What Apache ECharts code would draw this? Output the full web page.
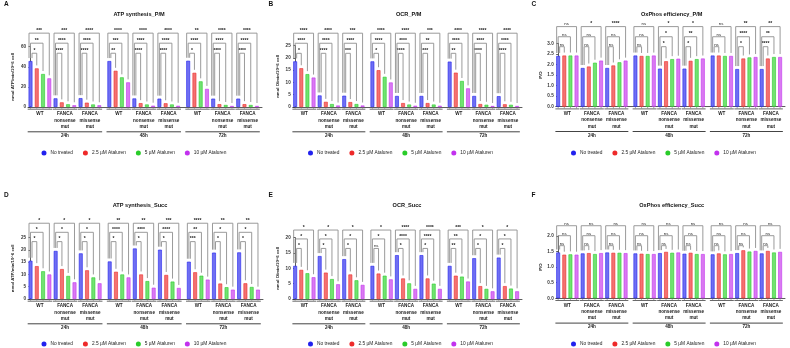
<!DOCTYPE html>
<html>
<head>
<meta charset="utf-8">
<script src="https://cdn.jsdelivr.net/npm/echarts@6/dist/echarts.min.js"></script>
<style>
  html, body { margin: 0; padding: 0; background: #fff; }
  #main { width: 790px; height: 348px; }
</style>
</head>
<body>
<div id="main"></div>
<script>
// categories
const treatments = ['No treated', '2.5 µM Ataluren', '5 µM Ataluren', '10 µM Ataluren'];
const times = ['24h', '48h', '72h'];
const cellLines = ['WT', 'FANCA\nnonsense\nmut', 'FANCA\nmissense\nmut'];

// one row per group: 24h WT, 24h nonsense, 24h missense, 48h ..., 72h ...
const atpPM = [
  [45.7, 38.4, 32.8, 28.5], [8.6, 4.6, 2.7, 1.7], [8.8, 4.3, 2.5, 1.7],
  [45.7, 36.0, 29.5, 24.5], [8.5, 3.8, 2.5, 1.3], [8.3, 3.7, 2.5, 1.2],
  [46.0, 34.0, 25.5, 18.0], [8.3, 2.8, 2.0, 1.0], [8.3, 2.8, 2.0, 1.0]
];
const ocrPM = [
  [18.6, 15.8, 13.4, 12.0], [4.7, 2.1, 1.2, 0.6], [4.6, 2.0, 1.2, 0.6],
  [18.6, 15.0, 12.3, 10.0], [4.5, 1.6, 1.0, 0.5], [4.5, 1.6, 1.0, 0.5],
  [18.5, 14.0, 10.6, 7.6], [4.5, 1.2, 0.9, 0.4], [4.4, 1.1, 0.9, 0.4]
];
const poPM = [
  [2.40, 2.42, 2.42, 2.42], [1.83, 1.90, 2.08, 2.18], [1.83, 1.95, 2.10, 2.18],
  [2.42, 2.40, 2.40, 2.42], [1.80, 2.15, 2.25, 2.27], [1.80, 2.17, 2.25, 2.28],
  [2.42, 2.42, 2.40, 2.40], [1.78, 2.28, 2.33, 2.35], [1.78, 2.28, 2.35, 2.35]
];
const atpSucc = [
  [15.6, 13.4, 11.3, 10.0], [19.6, 12.2, 9.4, 6.8], [18.6, 11.7, 8.8, 6.4],
  [15.3, 11.1, 10.0, 8.8], [20.6, 10.0, 7.3, 4.6], [20.1, 9.8, 7.1, 4.5],
  [15.2, 10.9, 9.5, 7.9], [18.9, 6.3, 4.8, 3.8], [19.0, 6.4, 4.9, 3.8]
];
const ocrSucc = [
  [10.8, 9.5, 8.4, 7.1], [14.0, 8.6, 6.5, 4.8], [13.0, 8.0, 6.1, 4.6],
  [10.8, 8.3, 7.6, 6.4], [14.3, 6.7, 5.1, 3.3], [14.3, 6.7, 5.0, 3.3],
  [10.8, 7.6, 7.3, 5.7], [13.3, 4.2, 3.3, 2.5], [13.5, 4.2, 3.4, 2.5]
];
const poSucc = [
  [1.47, 1.40, 1.41, 1.40], [1.44, 1.45, 1.42, 1.45], [1.47, 1.46, 1.46, 1.45],
  [1.44, 1.43, 1.42, 1.42], [1.45, 1.49, 1.46, 1.47], [1.43, 1.46, 1.42, 1.42],
  [1.41, 1.44, 1.41, 1.42], [1.45, 1.54, 1.50, 1.52], [1.44, 1.52, 1.47, 1.49]
];

// significance vs No treated: [2.5 µM, 5 µM, 10 µM] per group
const starsAtpPM = [
  ['*', '**', '***'], ['****', '****', '***'], ['****', '****', '****'],
  ['**', '***', '****'], ['****', '****', '****'], ['****', '****', '****'],
  ['*', '****', '**'], ['****', '****', '****'], ['****', '****', '****']
];
const starsOcrPM = [
  ['*', '****', '****'], ['****', '****', '****'], ['***', '****', '***'],
  ['*', '****', '****'], ['****', '****', '****'], ['***', '**', '***'],
  ['**', '****', '****'], ['****', '****', '****'], ['****', '****', '****']
];
const starsPoPM = [
  ['ns', 'ns', 'ns'], ['ns', 'ns', '*'], ['ns', 'ns', '****'],
  ['ns', 'ns', 'ns'], ['*', '*', '*'], ['*', '**', '*'],
  ['ns', 'ns', 'ns'], ['*', '****', '**'], ['****', '**', '**']
];
const starsAtpSucc = [
  ['*', '*', '*'], ['*', '*', '*'], ['*', '*', '*'],
  ['*', '****', '**'], ['*', '****', '**'], ['*', '****', '***'],
  ['***', '**', '****'], ['*', '*', '**'], ['*', '*', '**']
];
const starsOcrSucc = [
  ['*', '*', '*'], ['*', '*', '*'], ['*', '*', '*'],
  ['ns', '*', '*'], ['*', '****', '****'], ['*', '****', '****'],
  ['**', '**', '***'], ['*', '*', '*'], ['*', '*', '*']
];
const starsPoSucc = [
  ['ns', 'ns', 'ns'], ['ns', 'ns', 'ns'], ['ns', 'ns', 'ns'],
  ['ns', 'ns', 'ns'], ['ns', 'ns', 'ns'], ['ns', 'ns', 'ns'],
  ['ns', 'ns', 'ns'], ['ns', 'ns', 'ns'], ['ns', 'ns', 'ns']
];

const fills = ['#6f6ff2', '#f27272', '#72e272', '#d97af2'];
const edges = ['#2222ee', '#ee2a2a', '#2acc2a', '#c232ee'];
const FONT = '"Liberation Sans", Arial, sans-serif';

// layout of each panel
const panels = [
  { letter: 'A', title: 'ATP synthesis_P/M', yName: 'nmol ATP/min/10^6 cell', values: atpPM, stars: starsAtpPM,
    yMax: 60, yStep: 20, dec: 0, levels: [53.5, 63.5, 73.5],
    grid: { left: 28, top: 46.7, width: 234, height: 60.3 }, cx: 139, row: 0, nameGap: 13 },
  { letter: 'B', title: 'OCR_P/M', yName: 'nmol O/min/10^6 cell', values: ocrPM, stars: starsOcrPM,
    yMax: 25, yStep: 5, dec: 0, levels: [21.9, 26, 30.1],
    grid: { left: 292.7, top: 45.7, width: 229.3, height: 61.3 }, cx: 408.7, row: 0, nameGap: 13 },
  { letter: 'C', title: 'OxPhos efficiency_P/M', yName: 'P/O', values: poPM, stars: starsPoPM,
    yMax: 3, yStep: 0.5, dec: 1, levels: [2.84, 3.31, 3.79],
    grid: { left: 555.7, top: 43.3, width: 229.3, height: 63.4 }, cx: 671.7, row: 0, nameGap: 13 },
  { letter: 'D', title: 'ATP synthesis_Succ', yName: 'nmol ATP/min/10^6 cell', values: atpSucc, stars: starsAtpSucc,
    yMax: 25, yStep: 5, dec: 0, levels: [23.4, 27.2, 30.9],
    grid: { left: 28, top: 237.7, width: 235, height: 61.3 }, cx: 140, row: 1, nameGap: 13 },
  { letter: 'E', title: 'OCR_Succ', yName: 'nmol O/min/10^6 cell', values: ocrSucc, stars: starsOcrSucc,
    yMax: 20, yStep: 5, dec: 0, levels: [16.5, 19.6, 22.5],
    grid: { left: 292.7, top: 237.7, width: 229.3, height: 61.3 }, cx: 407, row: 1, nameGap: 13 },
  { letter: 'F', title: 'OxPhos efficiency_Succ', yName: 'P/O', values: poSucc, stars: starsPoSucc,
    yMax: 2, yStep: 0.5, dec: 1, levels: [1.69, 2.01, 2.33],
    grid: { left: 555.7, top: 236, width: 229.3, height: 62.3 }, cx: 671.7, row: 1, nameGap: 13 }
];
const colX = [0, 264.5, 527.5];
const rowY = [0, 191];

// x position of bar i in group g (value axis, one unit per bar)
const barX = (g, i) => g * 4 + i + Math.floor(g / 3) * 0.6;

const grids = [], xAxes = [], yAxes = [], series = [], titles = [], legends = [];

panels.forEach((p, k) => {
  grids.push(p.grid);
  xAxes.push({
    gridIndex: k, type: 'value', min: -0.4, max: 37,
    axisLine: { show: true, onZero: false, lineStyle: { color: '#333', width: 0.8 } },
    axisTick: { show: false }, axisLabel: { show: false }, splitLine: { show: false }
  });
  yAxes.push({
    gridIndex: k, type: 'value', min: 0, max: p.yMax, interval: p.yStep,
    name: p.yName, nameLocation: 'middle', nameGap: p.nameGap,
    nameTextStyle: { fontSize: 4.3, fontFamily: FONT, fontWeight: 'bold', color: '#222' },
    axisLine: { show: true, lineStyle: { color: '#333', width: 0.8 } },
    axisTick: { show: true, length: 2, lineStyle: { color: '#333', width: 0.8 } },
    axisLabel: { fontSize: 4.6, fontFamily: FONT, fontWeight: 'bold', color: '#333', margin: 2,
      formatter: v => v.toFixed(p.dec) },
    splitLine: { show: false }
  });

  treatments.forEach((name, i) => {
    series.push({
      type: 'bar', name, xAxisIndex: k, yAxisIndex: k,
      barWidth: 3.8, barGap: '-100%',
      itemStyle: { color: fills[i], borderColor: edges[i], borderWidth: 0.6 },
      data: p.values.map((row, g) => [barX(g, i), row[i]])
    });
  });

  // brackets, significance marks, axis ticks, group and time labels
  series.push({
    type: 'custom', xAxisIndex: k, yAxisIndex: k, silent: true, clip: false,
    encode: { x: 0, y: 1 },
    data: p.values.map((row, g) => [barX(g, 0), 0]),
    renderItem: (params, api) => {
      const g = params.dataIndex;
      const row = p.values[g];
      const pts = row.map((v, i) => api.coord([barX(g, i), v]));
      const y0 = api.coord([0, 0])[1];
      const kids = [];
      for (let l = 0; l < 3; l++) {
        const yl = api.coord([0, p.levels[l]])[1];
        const xa = pts[0][0] + (1 - l) * 1.5;
        const xb = pts[l + 1][0];
        kids.push({
          type: 'polyline',
          shape: { points: [[xa, pts[0][1] - 3], [xa, yl], [xb, yl], [xb, pts[l + 1][1] - 3]] },
          style: { stroke: '#8f8f8f', lineWidth: 0.9, fill: 'none' }
        });
        const s = p.stars[g][l];
        kids.push({
          type: 'text',
          style: { text: s, x: (xa + xb) / 2, y: yl - 0.3, align: 'center', verticalAlign: 'bottom',
            textAlign: 'center', textVerticalAlign: 'bottom',
            font: (s === 'ns' ? 'normal 4.3px ' : 'bold 5px ') + FONT, fill: '#222' }
        });
      }
      pts.forEach(pt => {
        kids.push({ type: 'line', shape: { x1: pt[0], y1: y0, x2: pt[0], y2: y0 + 1.6 },
          style: { stroke: '#666', lineWidth: 0.6 } });
      });
      const gx0 = api.coord([barX(g, 0) - 0.45, 0])[0];
      const gx1 = api.coord([barX(g, 3) + 0.45, 0])[0];
      kids.push({ type: 'line', shape: { x1: gx0, y1: y0 + 2.2, x2: gx1, y2: y0 + 2.2 },
        style: { stroke: '#444', lineWidth: 0.8 } });
      kids.push({
        type: 'text',
        style: { text: cellLines[g % 3], x: (gx0 + gx1) / 2, y: y0 + 4, align: 'center', verticalAlign: 'top',
          textAlign: 'center', textVerticalAlign: 'top', lineHeight: 6.3,
          font: 'bold 4.6px ' + FONT, fill: '#222' }
      });
      if (g % 3 === 0) {
        const tx0 = gx0;
        const tx1 = api.coord([barX(g + 2, 3) + 0.45, 0])[0];
        kids.push({ type: 'line', shape: { x1: tx0, y1: y0 + 24.8, x2: tx1, y2: y0 + 24.8 },
          style: { stroke: '#444', lineWidth: 1 } });
        kids.push({
          type: 'text',
          style: { text: times[g / 3], x: (tx0 + tx1) / 2, y: y0 + 28.8, align: 'center', verticalAlign: 'middle',
            textAlign: 'center', textVerticalAlign: 'middle', font: 'bold 4.6px ' + FONT, fill: '#222' }
        });
      }
      return { type: 'group', children: kids };
    }
  });

  const ox = colX[k % 3], oy = rowY[p.row];
  titles.push({
    text: p.letter, left: ox + 4, top: oy + 1, padding: 0,
    textStyle: { fontSize: 6.5, fontWeight: 'bold', fontFamily: FONT, color: '#111' }
  });
  titles.push({
    text: p.title, left: p.cx, top: oy + 11, textAlign: 'center', padding: 0,
    textStyle: { fontSize: 5.6, fontWeight: 'bold', fontFamily: FONT, color: '#111' }
  });
  legends.push({
    data: treatments.map((n, i) => ({ name: n, itemStyle: { color: edges[i] } })),
    left: ox + 41.5 + (k % 3 === 0 ? 0 : 2), top: oy + 150.5, padding: 0,
    icon: 'circle', itemWidth: 3, itemHeight: 3, itemGap: 10,
    textStyle: { fontSize: 4.8, fontFamily: FONT, color: '#222' },
    selectedMode: false
  });
});

const chart = echarts.init(document.getElementById('main'), null, { renderer: 'canvas' });
chart.setOption({
  animation: false,
  backgroundColor: '#fff',
  title: titles,
  legend: legends,
  grid: grids,
  xAxis: xAxes,
  yAxis: yAxes,
  series
});
window.addEventListener('resize', () => chart.resize());
</script>
</body>
</html>
